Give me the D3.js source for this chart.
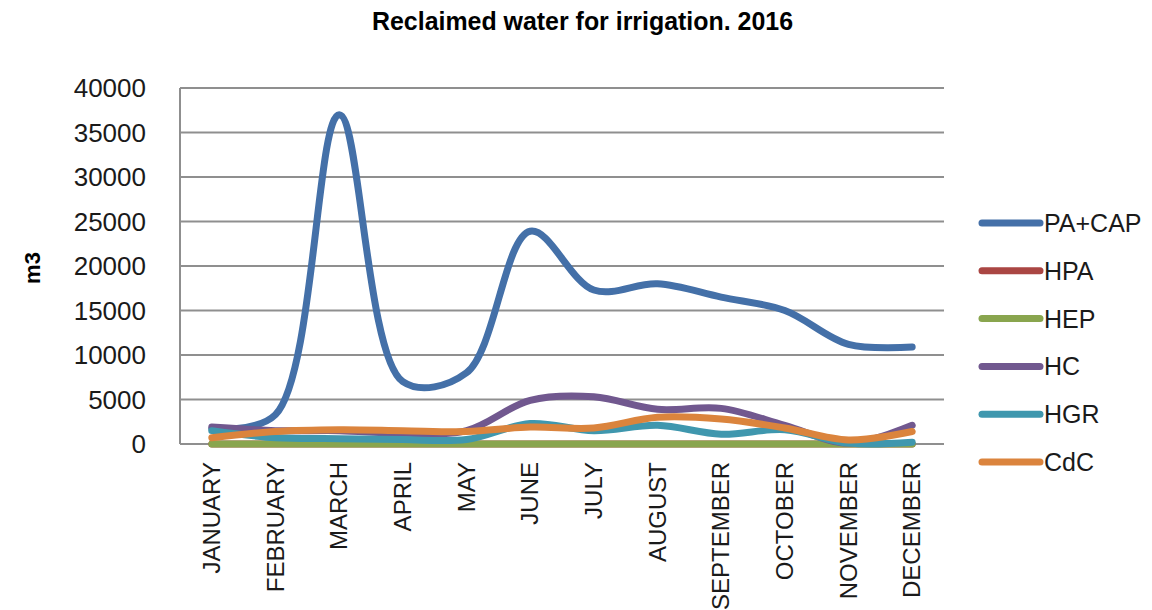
<!DOCTYPE html>
<html lang="en">
<head>
    <meta charset="UTF-8">
    <title>Reclaimed water for irrigation. 2016</title>
    <script src="https://d3js.org/d3.v7.min.js"></script>
    <style>
        body {
            margin: 0;
            background: #ffffff;
            font-family: "Liberation Sans", Arial, sans-serif;
        }
        .grid line {
            stroke: #8f8f8f;
            stroke-width: 2;
        }
    </style>
</head>
<body>
    <div id="chart"></div>

    <script>
        const width = 1152;
        const height = 610;

        // Dati
        const months = ["JANUARY", "FEBRUARY", "MARCH", "APRIL", "MAY", "JUNE",
            "JULY", "AUGUST", "SEPTEMBER", "OCTOBER", "NOVEMBER", "DECEMBER"];
        const seriesNames = ["PA+CAP", "HPA", "HEP", "HC", "HGR", "CdC"];
        const paCap = [1700, 3300, 37000, 7000, 8000, 23900, 17300, 18000, 16500, 15000, 11200, 10900];
        const hpa = [0, 0, 0, 0, 0, 0, 0, 0, 0, 0, 0, 0];
        const hep = [0, 0, 0, 0, 0, 0, 0, 0, 0, 0, 0, 0];
        const hc = [1900, 1500, 1500, 1200, 1500, 4900, 5300, 3900, 4000, 2100, 100, 2100];
        const hgr = [1500, 700, 600, 500, 500, 2300, 1500, 2100, 1100, 1600, 100, 200];
        const cdc = [700, 1400, 1600, 1500, 1400, 1900, 1800, 3000, 2800, 1800, 450, 1400];
        const yTicks = [0, 5000, 10000, 15000, 20000, 25000, 30000, 35000, 40000];
        const colors = ["#4470a8", "#aa4643", "#89a54e", "#71588f", "#3f97ae", "#db843d"];

        const allValues = [paCap, hpa, hep, hc, hgr, cdc];

        const margin = { top: 88, left: 180, right: 208, bottom: 166 };
        const plotW = width - margin.left - margin.right;
        const plotH = height - margin.top - margin.bottom;

        const svg = d3.select("#chart")
            .append("svg")
            .attr("width", width)
            .attr("height", height);

        const x = d3.scaleBand()
            .domain(months)
            .range([margin.left, margin.left + plotW]);

        const y = d3.scaleLinear()
            .domain([0, 40000])
            .range([margin.top + plotH, margin.top]);

        // Titolo
        svg.append("text")
            .attr("x", 372)
            .attr("y", 30)
            .attr("textLength", 421)
            .attr("lengthAdjust", "spacingAndGlyphs")
            .attr("font-weight", "bold")
            .attr("font-size", "25px")
            .text("Reclaimed water for irrigation. 2016");

        // Griglia
        svg.append("g")
            .attr("class", "grid")
            .selectAll("line")
            .data(yTicks)
            .enter()
            .append("line")
            .attr("x1", margin.left)
            .attr("x2", margin.left + plotW)
            .attr("y1", d => y(d))
            .attr("y2", d => y(d));

        // Asse verticale
        svg.append("line")
            .attr("x1", margin.left)
            .attr("x2", margin.left)
            .attr("y1", y(40000))
            .attr("y2", y(0))
            .attr("stroke", "#8f8f8f")
            .attr("stroke-width", 2);

        // Etichette asse Y
        svg.selectAll(".ytick")
            .data(yTicks)
            .enter()
            .append("text")
            .attr("class", "ytick")
            .attr("x", 146)
            .attr("y", d => y(d) + 9)
            .attr("text-anchor", "end")
            .attr("font-size", "26px")
            .attr("fill", "#1a1a1a")
            .text(d => d);

        svg.append("text")
            .attr("transform", "translate(40,268) rotate(-90)")
            .attr("text-anchor", "middle")
            .attr("font-weight", "bold")
            .attr("font-size", "22px")
            .text("m3");

        // Etichette mesi
        svg.selectAll(".xtick")
            .data(months)
            .enter()
            .append("text")
            .attr("class", "xtick")
            .attr("transform", d => `translate(${x(d) + x.bandwidth() / 2 + 8},${y(0) + 18}) rotate(-90)`)
            .attr("text-anchor", "end")
            .attr("font-size", "24px")
            .attr("fill", "#1a1a1a")
            .text(d => d);

        // Linee (smussate)
        const line = d3.line()
            .x((d, i) => x(months[i]) + x.bandwidth() / 2)
            .y(d => y(d))
            .curve(d3.curveCatmullRom.alpha(0.5));

        svg.selectAll(".series")
            .data(allValues)
            .enter()
            .append("path")
            .attr("class", "series")
            .attr("d", d => line(d))
            .attr("fill", "none")
            .attr("stroke", (d, i) => colors[i])
            .attr("stroke-width", 7)
            .attr("stroke-linecap", "round")
            .attr("stroke-linejoin", "round");

        // Legenda
        const legend = svg.selectAll(".legend")
            .data(seriesNames)
            .enter()
            .append("g")
            .attr("class", "legend")
            .attr("transform", (d, i) => `translate(982,${223 + i * 47.8})`);

        legend.append("line")
            .attr("x1", 0)
            .attr("x2", 58)
            .attr("stroke", (d, i) => colors[i])
            .attr("stroke-width", 7)
            .attr("stroke-linecap", "round");

        legend.append("text")
            .attr("x", 62)
            .attr("y", 9)
            .attr("font-size", "25px")
            .attr("fill", "#1a1a1a")
            .text(d => d);
    </script>
</body>
</html>
